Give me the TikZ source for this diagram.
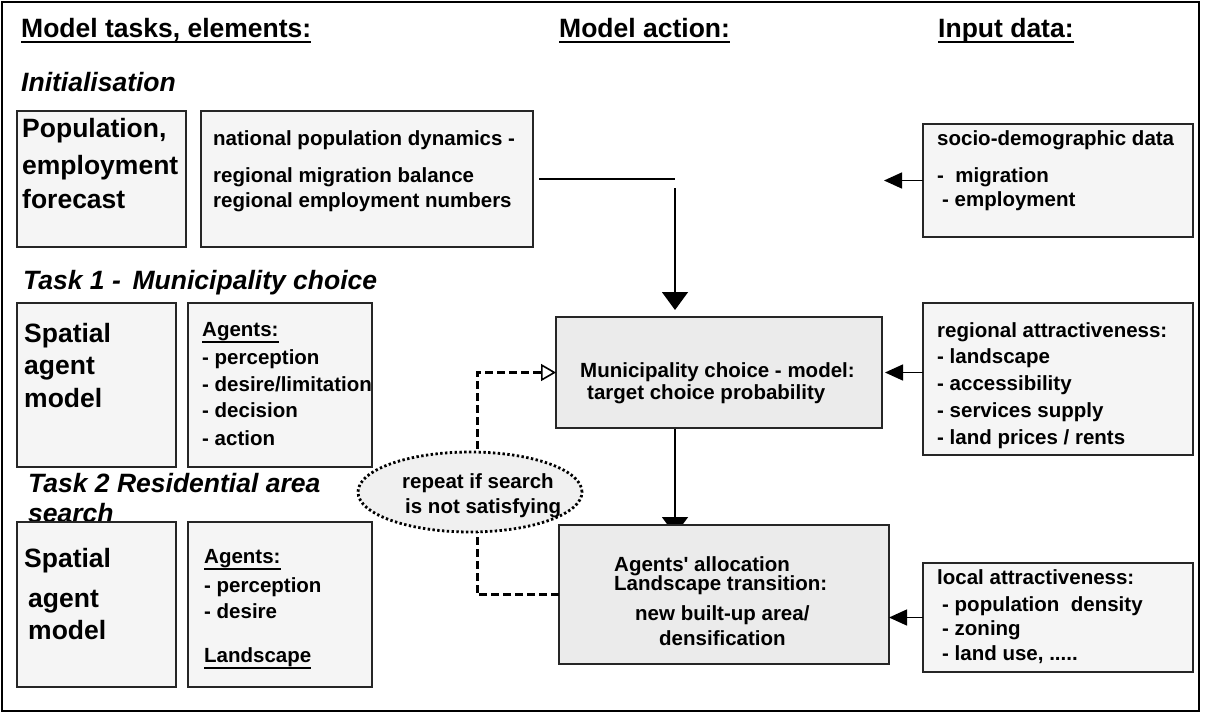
\documentclass[tikz,border=0pt]{standalone}
\usepackage{fontspec}
\setmainfont{Liberation Sans}
\usetikzlibrary{arrows.meta,shapes.geometric,backgrounds}

\newcommand\hdfont{\fontsize{26.5}{30}\selectfont\bfseries}
\newcommand\bodyfont{\fontsize{20.5}{24}\selectfont\bfseries}
% underline with own depth and thickness
\newcommand\ulbox[3]{\setbox0\hbox{#3}\rlap{\rule[-#1]{\wd0}{#2}}\box0}

\tikzset{
  plainbox/.style={draw=black!85, line width=1.4pt, fill=black!4, anchor=north west, inner sep=0pt, outer sep=0pt},
  actbox/.style={plainbox, fill=black!8},
  head/.style={anchor=base west, inner sep=0pt, font=\hdfont},
  ital/.style={head, font=\hdfont\itshape},
  txt/.style={anchor=base west, inner sep=0pt, font=\bodyfont},
  conn/.style={line width=1.5pt, black},
  arrowh/.style={conn, -{Triangle[length=18pt,width=16pt]}},
  arrowv/.style={conn, -{Triangle[length=18pt,width=26pt]}},
  feedback/.style={line width=3pt, dash pattern=on 8pt off 4pt, -{Triangle[open,length=15pt,width=17pt,line width=1.6pt]}},
  repeatell/.style={ellipse, draw, fill=black!6, line width=2.8pt, dash pattern=on 2.4pt off 2.4pt, minimum width=224pt, minimum height=80pt, inner sep=0pt}
}

\begin{document}
\begin{tikzpicture}[x=1pt,y=-1pt]
  \useasboundingbox (0,0) rectangle (1205,713);
  \draw[line width=2pt] (2,2) rectangle (1199,711);

  % column headers
  \node[head] (hdtasks) at (21,37) {\ulbox{6pt}{2.5pt}{Model tasks, elements:}};
  \node[head] (hdaction) at (559,37) {\ulbox{6pt}{2.5pt}{Model action:}};
  \node[head] (hdinput) at (938,37) {\ulbox{6pt}{2.5pt}{Input data:}};

  % initialisation
  \node[ital] (init) at (21,91) {Initialisation};
  \node[plainbox, minimum width=169pt, minimum height=136pt] (popbox) at (17,111) {};
  \node[plainbox, minimum width=332pt, minimum height=136pt] (nationbox) at (201,111) {};
  \node[plainbox, minimum width=270pt, minimum height=113pt] (sociobox) at (923,124) {};
  \node[head] (pop1) at (22,137) {Population,};
  \node[head] (pop2) at (22,174) {employment};
  \node[head] (pop3) at (22,208) {forecast};
  \node[txt] (nat1) at (213,145) {national population dynamics -};
  \node[txt] (nat2) at (213,182) {regional migration balance};
  \node[txt] (nat3) at (213,207) {regional employment numbers};
  \node[txt] (soc1) at (937,145) {socio-demographic data};
  \node[txt] (soc2) at (937,182) {-\ \ migration};
  \node[txt] (soc3) at (942,206) {- employment};

  % task 1
  \node[ital] (task1) at (23,289) {Task 1 -\ \,Municipality choice};
  \node[plainbox, minimum width=159pt, minimum height=164pt] (spat1box) at (17,303) {};
  \node[plainbox, minimum width=184pt, minimum height=164pt] (agent1box) at (188,303) {};
  \node[head] (spa1) at (24,342) {Spatial};
  \node[head] (spa2) at (24,374) {agent};
  \node[head] (spa3) at (24,407) {model};
  \node[txt] (ag1) at (202,336) {\ulbox{7pt}{2pt}{Agents:}};
  \node[txt] (ag2) at (202,364) {- perception};
  \node[txt] (ag3) at (202,391) {- desire/limitation};
  \node[txt] (ag4) at (202,417) {- decision};
  \node[txt] (ag5) at (202,445) {- action};
  \node[actbox, minimum width=326pt, minimum height=111pt] (muncbox) at (556,317) {};
  \node[txt] (mun1) at (580,377) {Municipality choice - model:};
  \node[txt] (mun2) at (587,399) {target choice probability};
  \node[plainbox, minimum width=270pt, minimum height=152pt] (regbox) at (923,303) {};
  \node[txt] (reg1) at (937,337) {regional attractiveness:};
  \node[txt] (reg2) at (937,363) {- landscape};
  \node[txt] (reg3) at (937,390) {- accessibility};
  \node[txt] (reg4) at (937,417) {- services supply};
  \node[txt] (reg5) at (937,444) {- land prices / rents};

  % task 2
  \node[ital] (task2a) at (28,492) {Task 2 Residential area};
  \node[ital] (task2b) at (28,522) {search};
  \node[plainbox, minimum width=159pt, minimum height=165pt] (spat2box) at (17,522) {};
  \node[plainbox, minimum width=184pt, minimum height=165pt] (agent2box) at (188,522) {};
  \node[head] (spb1) at (24,567) {Spatial};
  \node[head] (spb2) at (28,607) {agent};
  \node[head] (spb3) at (28,639) {model};
  \node[txt] (agb1) at (204,563) {\ulbox{7pt}{2pt}{Agents:}};
  \node[txt] (agb2) at (204,592) {- perception};
  \node[txt] (agb3) at (204,618) {- desire};
  \node[txt] (agb4) at (204,662) {\ulbox{7pt}{2pt}{Landscape}};
  \node[actbox, minimum width=330pt, minimum height=139pt] (allocbox) at (559,525) {};
  \node[txt] (al1) at (614,571) {Agents\textquotesingle{} allocation};
  \node[txt] (al2) at (614,590) {Landscape transition:};
  \node[txt] (al3) at (635,620) {new built-up area/};
  \node[txt] (al4) at (659,645) {densification};
  \node[plainbox, minimum width=270pt, minimum height=109pt] (localbox) at (923,563) {};
  \node[txt] (loc1) at (937,584) {local attractiveness:};
  \node[txt] (loc2) at (942,611) {- population\ \ density};
  \node[txt] (loc3) at (942,635) {- zoning};
  \node[txt] (loc4) at (942,660) {- land use, .....};

  % flows
  \coordinate (socend) at (884,180.5);
  \coordinate (bendA) at (675,181);
  \coordinate (bendB) at (675,188);
  \coordinate (loopx) at (477,0);
  \draw[arrowh] (sociobox.west) -- (socend);
  \draw[conn, shorten <=6pt] (nationbox.east) -- (nationbox.east -| bendA);
  \draw[arrowv, shorten >=7pt] (bendB) -- (bendB |- muncbox.north);
  \draw[arrowh, shorten >=3pt] (regbox.west |- muncbox.east) -- (muncbox.east);
  \draw[arrowh] (localbox.west) -- (localbox.west -| allocbox.east);
  \begin{scope}[on background layer]
    \draw[arrowv, shorten >=-10pt] (muncbox.south -| bendB) -- (allocbox.north -| bendB);
  \end{scope}
  \draw[feedback] (allocbox.west) -| (loopx |- muncbox.west) -- (muncbox.west);
  \node[repeatell] (repeat) at (470,492) {};
  \node[txt] (rep1) at (402,488) {repeat if search};
  \node[txt] (rep2) at (405,513) {is not satisfying};
\end{tikzpicture}
\end{document}
